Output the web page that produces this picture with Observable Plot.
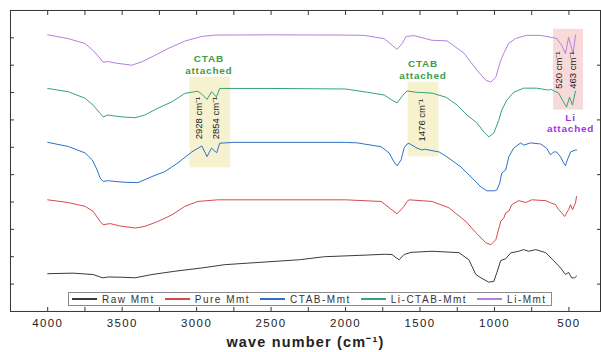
<!DOCTYPE html>
<html><head><meta charset="utf-8">
<script src="https://cdn.jsdelivr.net/npm/d3@7"></script>
<script src="https://cdn.jsdelivr.net/npm/@observablehq/plot@0.6"></script>
<style>
html,body{margin:0;padding:0;background:#fff;overflow:hidden;}
#wrap{position:relative;width:601px;height:352px;overflow:hidden;}
#legend{position:absolute;left:68px;top:292px;height:12px;border:1px solid #8a8a8a;background:#fff;display:flex;align-items:center;padding:0 4px 0 3px;font:10px "Liberation Sans",Arial,sans-serif;letter-spacing:1.5px;color:#333;white-space:nowrap;}
#legend .it{display:flex;align-items:center;margin-right:10px;}
#legend .it:last-child{margin-right:0;}
#legend .ln{display:inline-block;width:25px;height:1.5px;margin-right:5px;}
</style></head>
<body><div id="wrap"></div>
<script>
// Series: [wavenumber (cm-1), transmittance (a.u., offset)]
const rawMmt = [[4000,13.8],[3830,14.0],[3695,13.5],[3648,12.6],[3628,12.3],[3594,12.6],[3500,12.5],[3413,12.3],[3300,13.5],[3146,14.7],[2965,15.9],[2811,17.1],[2309,18.9],[2142,20.0],[1861,20.6],[1740,20.9],[1687,20.8],[1660,19.6],[1640,18.9],[1607,20.8],[1560,21.6],[1419,22.0],[1239,21.5],[1172,18.9],[1125,13.5],[1091,12.3],[1038,10.7],[1004,11.0],[984,14.2],[958,18.6],[924,19.3],[891,21.4],[837,22.0],[804,22.6],[770,22.0],[723,22.6],[656,21.5],[603,18.6],[556,15.9],[523,13.5],[502,14.3],[482,12.3],[462,12.3],[449,12.9]];
const pureMmt = [[4000,40.8],[3862,39.8],[3748,38.4],[3695,36.6],[3648,32.9],[3628,31.7],[3580,32.1],[3520,31.3],[3413,30.5],[3347,31.1],[3260,32.9],[3166,35.3],[3079,38.4],[2992,40.2],[2860,40.8],[2500,40.8],[2000,40.8],[1761,40.2],[1707,37.9],[1654,35.7],[1607,38.4],[1587,40.2],[1573,40.8],[1419,40.2],[1306,37.9],[1192,32.9],[1125,28.8],[1058,25.1],[1024,24.4],[991,26.2],[958,32.9],[937,34.2],[924,36.1],[904,36.6],[884,39.0],[837,40.5],[790,39.8],[750,40.8],[656,40.5],[623,39.7],[589,39.0],[569,37.2],[549,36.1],[529,34.7],[502,37.2],[489,39.0],[476,37.2],[456,39.7],[449,42.0]];
const ctabMmt = [[4000,61.8],[3862,60.3],[3748,57.9],[3701,55.4],[3668,51.7],[3648,48.8],[3628,47.5],[3594,47.8],[3547,47.5],[3480,47.2],[3393,47.1],[3300,49.3],[3213,51.1],[3126,54.3],[3032,58.3],[2965,60.5],[2930,56.6],[2900,59.7],[2865,58.0],[2845,61.5],[2744,61.8],[2500,61.8],[2000,61.8],[1921,61.6],[1761,60.2],[1707,57.9],[1674,54.6],[1654,53.2],[1627,55.4],[1607,59.7],[1587,61.2],[1573,61.4],[1520,59.7],[1486,59.0],[1470,59.3],[1372,58.3],[1319,56.5],[1225,52.8],[1138,48.1],[1091,45.5],[1051,44.1],[1000,44.1],[984,44.4],[964,47.0],[951,50.6],[924,51.7],[904,56.5],[871,59.7],[824,61.6],[804,60.8],[757,61.6],[690,61.2],[650,59.7],[623,57.2],[603,58.3],[583,58.3],[556,56.5],[536,54.3],[523,53.2],[516,54.6],[489,58.3],[456,59.0],[449,59.0]];
const liCtabMmt = [[4000,81.5],[3862,80.3],[3748,77.9],[3695,75.4],[3648,72.4],[3628,71.1],[3594,71.8],[3547,71.4],[3500,71.1],[3413,70.8],[3347,71.8],[3260,74.3],[3166,76.6],[3079,79.7],[2992,80.5],[2965,79.4],[2930,77.5],[2900,80.3],[2867,78.4],[2845,81.5],[2744,81.5],[2500,81.5],[2000,81.3],[1854,80.1],[1740,79.1],[1687,77.2],[1654,76.2],[1620,78.7],[1587,80.6],[1526,80.1],[1419,79.8],[1326,78.3],[1252,75.5],[1185,71.8],[1118,68.9],[1071,65.6],[1038,63.8],[1004,65.2],[971,69.9],[951,73.6],[917,77.2],[871,80.1],[804,81.6],[717,81.6],[636,80.9],[623,81.2],[569,79.8],[536,76.5],[516,74.7],[496,78.3],[476,75.4],[456,80.5]];
const liMmt = [[4000,101.1],[3862,99.7],[3748,97.9],[3695,95.4],[3648,92.5],[3628,91.1],[3594,91.3],[3547,90.8],[3436,90.0],[3369,91.2],[3280,93.6],[3191,96.1],[3079,98.8],[2967,100.5],[2878,101.0],[2500,101.1],[2000,101.0],[1874,100.9],[1740,99.7],[1687,97.3],[1654,95.8],[1620,97.9],[1593,100.5],[1540,100.8],[1419,99.1],[1319,98.9],[1205,94.4],[1118,88.2],[1058,84.5],[1024,83.8],[991,85.6],[958,91.8],[937,94.4],[904,98.0],[857,99.8],[784,100.9],[690,100.9],[623,100.2],[583,99.8],[549,97.3],[523,94.2],[502,100.3],[489,97.5],[472,94.2],[456,101.0]];

const seriesNames = ["Raw Mmt","Pure Mmt","CTAB-Mmt","Li-CTAB-Mmt","Li-Mmt"];
const seriesData = [rawMmt, pureMmt, ctabMmt, liCtabMmt, liMmt];
const seriesColors = ["#3a3a3a","#d44a4a","#2d71c4","#36a276","#b67fdb"];

const xMajorTicks = [4000,3500,3000,2500,2000,1500,1000,500];
const xAllTicks = [4000,3750,3500,3250,3000,2750,2500,2250,2000,1750,1500,1250,1000,750,500];
const yLeftTicks = [10,20,30,40,50,60,70,80,90,100];
const yRightTicks = [10,30,50,70,90];

// Highlight bands [wn from, wn to, T from, T to, kind]
const bands = [[3045,2771,52.5,85.6,"ctab"],[1580,1372,56.5,83.8,"ctab"],[603,402,73.6,103.1,"li"]];
const peakLabels = [[2982,70.7,"2928 cm⁻¹"],[2868,70.7,"2854 cm⁻¹"],[1486,69.9,"1476 cm⁻¹"],[565,88.2,"520 cm⁻¹"],[474,88.2,"463 cm⁻¹"]];
const notes = [[2918,90.3,"CTAB\nattached","ctab"],[1480,88.5,"CTAB\nattached","ctab"],[489,69.0,"Li\nattached","li"]];
const xLabel = "wave number (cm⁻¹)";

const bandFill = {ctab:"#f6f2cf", li:"#f8dada"};
const noteColor = {ctab:"#3e9c45", li:"#9b35e0"};

const rows = seriesData.flatMap((s,i)=>s.map(([wn,t])=>({wn,t,series:seriesNames[i]})));

const chart = Plot.plot({
  width: 603, height: 352,
  marginLeft: 10, marginRight: 1, marginTop: 10, marginBottom: 40,
  style: {fontFamily: '"Liberation Sans", Arial, sans-serif', color: "#222", background: "#fff"},
  x: {domain: [4250, 288], label: null},
  y: {domain: [0, 110], label: null},
  color: {domain: seriesNames, range: seriesColors},
  marks: [
    Plot.rect(bands, {x1: d=>d[0], x2: d=>d[1], y1: d=>d[2], y2: d=>d[3], fill: d=>bandFill[d[4]]}),
    Plot.line(rows, {x: "wn", y: "t", z: "series", stroke: "series", strokeWidth: 1}),
    Plot.text(peakLabels, {x: d=>d[0], y: d=>d[1], text: d=>d[2], rotate: -90, fontSize: 9.5, fill: "#222"}),
    Plot.text(notes, {x: d=>d[0], y: d=>d[1], text: d=>d[2], fill: d=>noteColor[d[3]], fontSize: 10, fontWeight: "bold", lineHeight: 1.2}),
    Plot.frame({stroke: "#333"}),
    Plot.axisX({anchor: "bottom", ticks: xAllTicks, tickSize: -4, tickFormat: () => "", stroke: "#333", label: null}),
    Plot.axisX({anchor: "top", ticks: xAllTicks, tickSize: -4, tickFormat: () => "", stroke: "#333", label: null}),
    Plot.axisX({anchor: "bottom", ticks: xMajorTicks, tickSize: 0, tickPadding: 7, tickFormat: d => String(d), fontSize: 11.5, fill: "#222", label: null}),
    Plot.axisY({anchor: "left", ticks: yLeftTicks, tickSize: -4, tickFormat: () => "", stroke: "#333", label: null}),
    Plot.axisY({anchor: "right", ticks: yRightTicks, tickSize: -4, tickFormat: () => "", stroke: "#333", label: null}),
    Plot.text([xLabel], {frameAnchor: "bottom", text: d=>d, dy: 31, lineAnchor: "middle", fontSize: 14.5, fontWeight: "bold", fill: "#222"})
  ]
});
const wrap = document.getElementById("wrap");
wrap.appendChild(chart);

// letter spacing tweaks (text styling only)
d3.select(chart).selectAll("text").each(function() {
  const t = this.textContent;
  if (t.includes("attached")) this.style.letterSpacing = "0.8px";
  else if (t === xLabel) this.style.letterSpacing = "1.2px";
  else if (xMajorTicks.map(String).includes(t)) this.style.letterSpacing = "1.4px";
});

const legend = document.createElement("div");
legend.id = "legend";
seriesNames.forEach((n,i)=>{
  const it = document.createElement("div"); it.className = "it";
  const ln = document.createElement("span"); ln.className = "ln"; ln.style.background = seriesColors[i];
  const tx = document.createElement("span"); tx.textContent = n;
  it.appendChild(ln); it.appendChild(tx); legend.appendChild(it);
});
wrap.appendChild(legend);
</script>
</body></html>
